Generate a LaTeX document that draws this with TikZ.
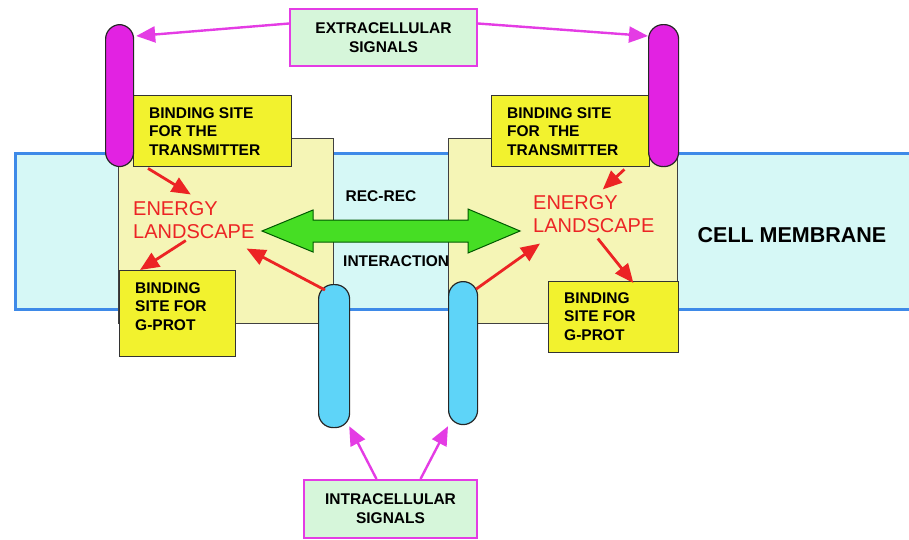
\documentclass[tikz,border=0pt]{standalone}
\usepackage{fontspec}
\setmainfont{Liberation Sans}
\usetikzlibrary{arrows.meta}

\definecolor{membranefill}{RGB}{214,248,246}
\definecolor{membraneblue}{RGB}{62,138,232}
\definecolor{recfill}{RGB}{245,245,182}
\definecolor{siteyellow}{RGB}{242,242,46}
\definecolor{outsidemag}{RGB}{226,34,226}
\definecolor{insidecyan}{RGB}{94,212,248}
\definecolor{signalfill}{RGB}{214,246,218}
\definecolor{signalmag}{RGB}{228,60,228}
\definecolor{energyred}{RGB}{236,36,36}
\definecolor{interactgreen}{RGB}{70,222,36}

\begin{document}
\begin{tikzpicture}[x=1pt,y=-1pt,>={Triangle[length=19pt,width=16pt]},
  rec box/.style={rectangle,draw=black!75,line width=1.2pt,fill=recfill,inner sep=0pt,anchor=north west},
  site box/.style={rectangle,draw=black!80,line width=1.4pt,fill=siteyellow,inner sep=0pt,anchor=north west},
  site text/.style={anchor=north west,inner sep=0pt,align=left,font=\bfseries\fontsize{15.5}{18.5}\selectfont},
  signal box/.style={rectangle,draw=signalmag,line width=2pt,fill=signalfill,align=center,font=\bfseries\fontsize{15.5}{19}\selectfont},
  oval/.style={rectangle,draw=black!85,line width=1.2pt,inner sep=0pt,anchor=north west,rounded corners=14.5pt},
  energy/.style={anchor=west,inner sep=0pt,align=left,text=energyred,font=\fontsize{20}{22.5}\selectfont},
  label text/.style={inner sep=0pt,font=\bfseries\fontsize{15.5}{18.5}\selectfont},
  rec arrow/.style={draw=green!35!black,line width=1pt,fill=interactgreen},
  red arrow/.style={->,color=energyred,line width=2.8pt},
  signal arrow/.style={->,color=signalmag,line width=2.4pt}]
  \useasboundingbox (0,0) rectangle (909,539);
  \clip (0,0) rectangle (909,539);

  % membrane and the two receptors
  \draw[draw=membraneblue,line width=3pt,fill=membranefill] (15,153) rectangle (930,309);
  \node[label text] (recrec) at (381,196) {REC-REC};
  \node[label text,anchor=west] (inter) at (343,261) {INTERACTION};
  \node[rec box,minimum width=215pt,minimum height=185pt] (recl) at (118,138) {};
  \node[rec box,minimum width=229pt,minimum height=185pt] (recr) at (448,138) {};
  \node[font=\bfseries\fontsize{21.5}{24}\selectfont,inner sep=0pt] (cm) at (792,235) {CELL MEMBRANE};

  % rec-rec interaction
  \draw[rec arrow] (262,231) -- (313,210) -- (313,220) -- (468,220) -- (468,209) -- (520,231)
    -- (468,253) -- (468,242) -- (313,242) -- (313,252) -- cycle;

  % binding sites
  \node[site box,minimum width=158pt,minimum height=71pt] (tsl) at (133,95) {};
  \node[site text] (tslt) at ([shift={(16,12)}]tsl.north west) {BINDING SITE\\FOR THE\\TRANSMITTER};
  \node[site box,minimum width=158pt,minimum height=71pt] (tsr) at (491,95) {};
  \node[site text] (tsrt) at ([shift={(16,12)}]tsr.north west) {BINDING SITE\\FOR\ \ THE\\TRANSMITTER};
  \node[site box,minimum width=116pt,minimum height=86pt] (gpl) at (119,270) {};
  \node[site text] (gplt) at ([shift={(16,12)}]gpl.north west) {BINDING\\SITE FOR\\G-PROT};
  \node[site box,minimum width=130pt,minimum height=71pt] (gpr) at (548,281) {};
  \node[site text] (gprt) at ([shift={(16,11)}]gpr.north west) {BINDING\\SITE FOR\\G-PROT};

  % receptor ends
  \node[oval,fill=outsidemag,minimum width=28pt,minimum height=142pt] (lmo) at (105,24) {};
  \node[oval,fill=outsidemag,minimum width=30pt,minimum height=142pt] (rmo) at (648,24) {};
  \node[oval,fill=insidecyan,minimum width=31pt,minimum height=143pt] (lbo) at (318,284) {};
  \node[oval,fill=insidecyan,minimum width=29pt,minimum height=143pt] (rbo) at (448,281) {};

  \node[energy] (enl) at (133,220) {ENERGY\\LANDSCAPE};
  \node[energy] (enr) at (533,214) {ENERGY\\LANDSCAPE};

  % signals
  \node[signal box,minimum width=187pt,minimum height=57pt] (ecs) at (383.5,37.5) {EXTRACELLULAR\\SIGNALS};
  \node[signal box,minimum width=173pt,minimum height=58pt] (ics) at (390.5,509) {INTRACELLULAR\\SIGNALS};

  \path
     ([shift={(15,1)}]tsl.south west) edge[red arrow] ([shift={(-3,-7)}]enl.north)
     ([shift={(-8,2)}]enl.south) edge[red arrow] ([xshift=21pt]gpl.north west)
     ([shift={(7,6)}]lbo.north west) edge[red arrow] ([shift={(-8,10)}]enl.south east)
     ([shift={(-26,2)}]tsr.south east) edge[red arrow] ([shift={(9,-6)}]enr.north)
     ([shift={(4,6)}]enr.south) edge[red arrow] ([shift={(-46,2)}]gpr.north east)
     ([shift={(-2,8)}]rbo.north east) edge[red arrow] ([shift={(7,11)}]enr.south west);
  \path
     ([shift={(0,-14)}]ecs.west) edge[signal arrow] ([shift={(2,12)}]lmo.north east)
     ([shift={(0,-14)}]ecs.east) edge[signal arrow] ([shift={(0,12)}]rmo.north west)
     ([shift={(-14,0)}]ics.north) edge[signal arrow] ([shift={(-1,-2)}]lbo.south east)
     ([shift={(30,0)}]ics.north) edge[signal arrow] ([shift={(0,1)}]rbo.south west);
\end{tikzpicture}
\end{document}
